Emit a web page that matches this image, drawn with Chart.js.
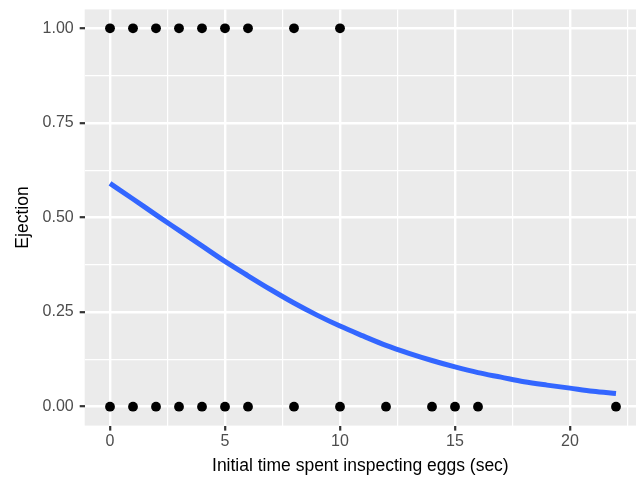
<!DOCTYPE html>
<html lang="en">
<head>
<meta charset="UTF-8">
<title>Ejection vs inspection time</title>
<style>
    * { margin: 0; padding: 0; box-sizing: border-box; }
    body { background: #ffffff; width: 636px; height: 478px; overflow: hidden; }
    #wrap { width: 636px; height: 478px; }
</style>
</head>
<body>
<div id="wrap"><canvas id="chart" width="636" height="478"></canvas></div>
<script src="https://cdn.jsdelivr.net/npm/chart.js"></script>
<script>
// observations: inspection time (sec) and whether the egg was ejected (1) or not (0)
const inspectTime = [0, 1, 2, 3, 4, 5, 6, 8, 10,
                     0, 1, 2, 3, 4, 5, 6, 8, 10, 12, 14, 15, 16, 22];
const ejection    = [1, 1, 1, 1, 1, 1, 1, 1, 1,
                     0, 0, 0, 0, 0, 0, 0, 0, 0, 0, 0, 0, 0, 0];

// fitted logistic curve
const fitTime = [0, 1, 2, 3, 4, 5, 6, 7, 8, 9, 10, 11, 12, 13, 14, 15, 16, 17, 18, 19, 20, 21, 22];
const fitProb = [0.590, 0.549, 0.507, 0.466, 0.425, 0.384, 0.346, 0.309, 0.274, 0.242, 0.213, 0.187,
                 0.162, 0.141, 0.122, 0.105, 0.090, 0.078, 0.066, 0.057, 0.049, 0.041, 0.035];

const xMajor = [0, 5, 10, 15, 20];
const xMinor = [2.5, 7.5, 12.5, 17.5, 22.5];
const yMajor = [0, 0.25, 0.5, 0.75, 1];
const yMinor = [0.125, 0.375, 0.625, 0.875];

const FONT = '"Liberation Sans", Arial, Helvetica, sans-serif';

function setTicks(majors, minors) {
    return function(scale) {
        scale.ticks = majors.concat(minors).sort((a, b) => a - b).map(v => ({ value: v, major: majors.includes(v) }));
    };
}

function isMajor(list, v) {
    return list.some(m => Math.abs(m - v) < 1e-9);
}

// grey panel behind the grid, like ggplot
const panelBg = {
    id: 'panelBg',
    beforeDraw(chart) {
        const a = chart.chartArea;
        const ctx = chart.ctx;
        ctx.save();
        ctx.fillStyle = '#EBEBEB';
        ctx.fillRect(a.left, a.top, a.right - a.left, a.bottom - a.top);
        ctx.restore();
    }
};

const ctx = document.getElementById('chart').getContext('2d');
new Chart(ctx, {
    data: {
        datasets: [
            {
                type: 'scatter',
                data: inspectTime.map((t, i) => ({ x: t, y: ejection[i] })),
                backgroundColor: '#000000',
                borderWidth: 0,
                pointRadius: 4.9,
                order: 2
            },
            {
                type: 'line',
                data: fitTime.map((t, i) => ({ x: t, y: fitProb[i] })),
                borderColor: '#3366FF',
                borderWidth: 5,
                pointRadius: 0,
                cubicInterpolationMode: 'monotone',
                fill: false,
                order: 1
            }
        ]
    },
    options: {
        responsive: false,
        devicePixelRatio: 1,
        animation: false,
        layout: { autoPadding: false, padding: { top: 9.4, right: 0, bottom: 0, left: 0 } },
        plugins: {
            legend: { display: false },
            tooltip: { enabled: false }
        },
        scales: {
            x: {
                type: 'linear',
                min: -1.1,
                max: 22.87,
                afterBuildTicks: setTicks(xMajor, xMinor),
                afterFit(scale) {
                    scale.height = 52.4;
                    scale.paddingLeft = 0; scale.paddingRight = 0;
                    scale.paddingTop = 0; scale.paddingBottom = 0;
                },
                border: { display: false },
                grid: {
                    color: '#FFFFFF',
                    lineWidth: c => isMajor(xMajor, c.tick.value) ? 2.4 : 1.2,
                    tickColor: c => isMajor(xMajor, c.tick.value) ? '#333333' : 'rgba(0,0,0,0)',
                    tickWidth: 2.2,
                    tickLength: 5,
                    drawTicks: true
                },
                ticks: {
                    autoSkip: false,
                    maxRotation: 0,
                    padding: 1,
                    color: '#4D4D4D',
                    font: { family: FONT, size: 16 },
                    callback: v => isMajor(xMajor, v) ? String(v) : ''
                },
                title: {
                    display: true,
                    text: 'Initial time spent inspecting eggs (sec)',
                    color: '#000000',
                    font: { family: FONT, size: 17.5 },
                    padding: { top: 0, bottom: 1 }
                }
            },
            y: {
                type: 'linear',
                min: -0.05,
                max: 1.05,
                afterBuildTicks: setTicks(yMajor, yMinor),
                afterFit(scale) {
                    scale.width = 84.7;
                    scale.paddingLeft = 0; scale.paddingRight = 0;
                    scale.paddingTop = 0; scale.paddingBottom = 0;
                },
                border: { display: false },
                grid: {
                    color: '#FFFFFF',
                    lineWidth: c => isMajor(yMajor, c.tick.value) ? 2.4 : 1.2,
                    tickColor: c => isMajor(yMajor, c.tick.value) ? '#333333' : 'rgba(0,0,0,0)',
                    tickWidth: 2.2,
                    tickLength: 5,
                    drawTicks: true
                },
                ticks: {
                    autoSkip: false,
                    padding: 6,
                    color: '#4D4D4D',
                    font: { family: FONT, size: 16 },
                    callback: v => isMajor(yMajor, v) ? v.toFixed(2) : ''
                },
                title: {
                    display: true,
                    text: 'Ejection',
                    color: '#000000',
                    font: { family: FONT, size: 17.5 },
                    padding: { top: 12.5, bottom: 0 }
                }
            }
        }
    },
    plugins: [panelBg]
});
</script>
</body>
</html>
